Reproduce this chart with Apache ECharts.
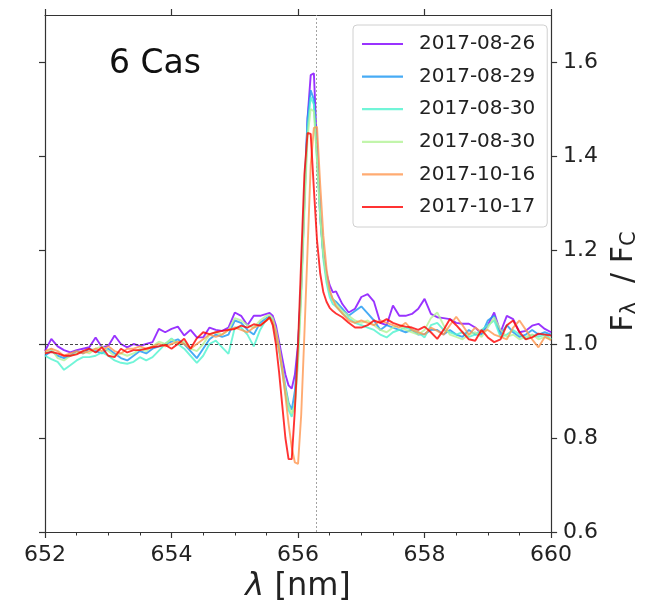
<!DOCTYPE html>
<html>
<head>
<meta charset="utf-8">
<script src="https://cdn.jsdelivr.net/npm/echarts@6/dist/echarts.min.js"></script>
<style>html,body{margin:0;padding:0;background:#fff}#c{width:653px;height:609px}</style>
</head>
<body>
<div id="c"></div>
<script>
const wavelength = [
652.0,652.1,652.2,652.3,652.4,652.5,652.6,652.7,652.8,652.9,
653.0,653.1,653.2,653.3,653.4,653.5,653.6,653.7,653.8,653.9,
654.0,654.1,654.2,654.3,654.4,654.5,654.6,654.7,654.8,654.9,
655.0,655.1,655.2,655.3,655.4,655.5,
655.55,655.6,655.65,655.7,655.75,655.8,655.85,655.9,655.95,656.0,656.05,
656.1,656.15,656.2,656.25,656.3,656.35,656.4,656.45,656.5,656.55,656.6,
656.7,656.8,656.9,
657.0,657.1,657.2,657.3,657.4,657.5,657.6,657.7,657.8,657.9,
658.0,658.1,658.2,658.3,658.4,658.5,658.6,658.7,658.8,658.9,
659.0,659.1,659.2,659.3,659.4,659.5,659.6,659.7,659.8,659.9,
660.0
];

const labels = ['2017-08-26','2017-08-29','2017-08-30','2017-08-30','2017-10-16','2017-10-17'];
const colors = ['#8000ff','#1996f3','#4df3ce','#b3f396','#ff964f','#ff0000'];

const s0826 = [
0.985,1.011,0.995,0.987,0.982,0.987,0.99,0.993,1.014,0.993,
0.996,1.018,1.0,0.993,1.0,0.996,1.0,1.004,1.032,1.025,
1.032,1.037,1.018,1.03,1.014,1.014,1.035,1.03,1.028,1.035,
1.067,1.06,1.04,1.06,1.06,1.064,
1.066,1.06,1.04,1.005,0.97,0.935,0.912,0.905,0.935,1.0,1.12,
1.3,1.48,1.572,1.576,1.42,1.27,1.19,1.15,1.125,1.11,1.112,
1.085,1.067,1.075,
1.1,1.106,1.09,1.045,1.04,1.082,1.06,1.06,1.064,1.075,
1.096,1.064,1.057,1.055,1.053,1.045,1.043,1.043,1.035,1.022,
1.04,1.067,1.025,1.06,1.053,1.025,1.028,1.039,1.043,1.032,
1.025
];
const s0829 = [
0.975,0.985,0.975,0.97,0.975,0.985,0.98,0.99,0.985,0.98,
0.99,0.98,0.97,0.965,0.975,0.985,0.98,0.99,0.995,1.0,
1.005,1.01,1.0,0.985,0.97,0.99,1.01,1.02,1.015,1.02,
1.05,1.045,1.03,1.02,1.045,1.055,
1.058,1.05,1.025,0.99,0.95,0.91,0.875,0.86,0.9,0.99,1.14,
1.32,1.48,1.54,1.52,1.4,1.28,1.19,1.14,1.11,1.095,1.09,
1.075,1.06,1.07,
1.08,1.065,1.05,1.03,1.04,1.035,1.03,1.025,1.03,1.02,
1.021,1.03,1.03,1.02,1.03,1.02,1.015,1.03,1.02,1.02,
1.05,1.06,1.02,1.04,1.025,1.015,1.02,1.03,1.02,1.025,
1.02
];
const s0830a = [
0.975,0.968,0.962,0.945,0.955,0.965,0.972,0.972,0.975,0.982,
0.975,0.965,0.96,0.958,0.962,0.972,0.965,0.972,0.986,1.0,
1.012,1.0,0.99,0.975,0.96,0.975,1.0,1.007,0.993,0.979,
1.035,1.035,1.02,0.995,1.03,1.053,
1.057,1.05,1.02,0.985,0.94,0.895,0.86,0.845,0.875,0.97,1.12,
1.3,1.46,1.525,1.51,1.39,1.27,1.18,1.13,1.1,1.085,1.08,
1.065,1.055,1.045,
1.04,1.035,1.03,1.02,1.014,1.025,1.03,1.035,1.03,1.025,
1.014,1.04,1.045,1.03,1.025,1.02,1.025,1.015,1.02,1.03,
1.04,1.05,1.015,1.02,1.03,1.02,1.01,1.02,1.015,1.02,
1.01
];
const s0830b = [
0.98,0.99,0.97,0.965,0.975,0.98,0.985,0.98,0.99,0.995,
0.985,0.975,0.98,0.975,0.98,0.99,0.985,0.995,1.005,1.0,
1.01,1.0,1.005,0.99,0.985,1.0,1.02,1.025,1.02,1.03,
1.055,1.05,1.04,1.035,1.05,1.06,
1.062,1.055,1.03,0.995,0.95,0.905,0.87,0.852,0.87,0.96,1.1,
1.28,1.44,1.5,1.495,1.39,1.27,1.19,1.14,1.11,1.095,1.085,
1.07,1.06,1.05,
1.045,1.05,1.04,1.03,1.025,1.035,1.04,1.03,1.025,1.02,
1.03,1.055,1.067,1.04,1.02,1.015,1.01,1.02,1.025,1.015,
1.035,1.057,1.03,1.015,1.02,1.01,1.015,1.02,1.01,1.015,
1.01
];
const s1016 = [
0.985,0.99,0.985,0.975,0.98,0.985,0.98,0.985,0.99,0.985,
0.995,0.985,0.98,0.99,0.99,0.995,0.99,0.995,1.0,0.995,
1.0,1.005,1.0,0.99,1.0,1.01,1.02,1.015,1.02,1.03,
1.035,1.03,1.025,1.035,1.04,1.05,
1.055,1.048,1.025,0.99,0.945,0.89,0.83,0.78,0.748,0.745,0.85,
1.02,1.2,1.38,1.46,1.462,1.34,1.23,1.16,1.115,1.095,1.08,
1.065,1.05,1.045,
1.05,1.045,1.04,1.05,1.045,1.04,1.035,1.045,1.03,1.025,
1.02,1.035,1.028,1.02,1.04,1.058,1.04,1.02,1.035,1.025,
1.03,1.02,1.015,1.01,1.035,1.05,1.03,1.01,0.993,1.015,
1.008
];
const s1017 = [
0.98,0.983,0.98,0.975,0.975,0.978,0.985,0.99,0.982,0.993,
0.975,0.972,0.99,0.982,0.987,0.987,0.99,0.993,0.995,0.998,
0.99,1.0,1.011,0.99,1.012,1.025,1.021,1.025,1.028,1.03,
1.032,1.039,1.035,1.042,1.039,1.05,
1.057,1.04,1.0,0.94,0.87,0.8,0.755,0.755,0.86,1.0,1.18,
1.36,1.449,1.447,1.33,1.22,1.15,1.11,1.09,1.077,1.07,1.065,
1.057,1.045,1.035,
1.035,1.04,1.05,1.045,1.053,1.045,1.04,1.037,1.035,1.03,
1.037,1.025,1.011,1.03,1.053,1.04,1.025,1.01,1.007,1.03,
1.014,1.004,1.01,1.04,1.05,1.025,1.01,1.014,1.022,1.02,
1.018
];
const seriesValues = [s0826, s0829, s0830a, s0830b, s1016, s1017];

const xTickValues = [652, 654, 656, 658, 660];
const yTickValues = [0.6, 0.8, 1.0, 1.2, 1.4, 1.6];
const xRange = [652, 660];
const yRange = [0.6, 1.7];
const continuumLevel = 1.0;
const halphaCenter = 656.28;
const starName = '6 Cas';

const FONT = 'DejaVu Sans';
const AXIS_COLOR = '#333';
const TEXT_COLOR = '#222';

const chart = echarts.init(document.getElementById('c'), null, {renderer: 'canvas'});

// unique internal names (two spectra share the same date)
const seriesNames = labels.map((l, i) => l + '#' + i);

const series = seriesValues.map((vals, i) => {
  const s = {
    name: seriesNames[i],
    type: 'line',
    xAxisIndex: 0,
    yAxisIndex: 1,
    symbol: 'none',
    showSymbol: false,
    smooth: false,
    z: 2 + i,
    data: wavelength.map((w, j) => [w, vals[j]]),
    lineStyle: {color: colors[i], width: 1.9, opacity: 0.8},
    itemStyle: {color: colors[i], opacity: 0.8}
  };
  if (i === 0) {
    s.markLine = {
      silent: true,
      symbol: ['none', 'none'],
      label: {show: false},
      animation: false,
      data: [
        {yAxis: continuumLevel, lineStyle: {color: '#333', width: 0.9, type: [3, 2], opacity: 1}},
        {xAxis: halphaCenter, lineStyle: {color: '#999', width: 0.9, type: [2, 2], opacity: 1}}
      ]
    };
  }
  return s;
});

const axisLine = {show: true, lineStyle: {color: AXIS_COLOR, width: 1.2}};
const xTick = {show: true, length: 6, inside: false, customValues: xTickValues, lineStyle: {color: AXIS_COLOR, width: 1.2}};
const yTick = {show: true, length: 6, inside: false, customValues: yTickValues, lineStyle: {color: AXIS_COLOR, width: 1.2}};

const option = {
  animation: false,
  backgroundColor: '#fff',
  grid: {left: 45, right: 97, top: 15, bottom: 77, containLabel: false},
  legend: {
    orient: 'vertical',
    left: 353,
    top: 25,
    padding: [9, 12, 10, 9],
    icon: 'rect',
    itemWidth: 41,
    itemHeight: 2.2,
    itemGap: 12.6,
    backgroundColor: 'rgba(255,255,255,0.8)',
    borderColor: '#d0d0d0',
    borderWidth: 1,
    borderRadius: 4,
    formatter: name => name.split('#')[0],
    textStyle: {fontFamily: FONT, fontSize: 20, color: TEXT_COLOR, lineHeight: 20, padding: [0, 0, 0, 11]},
    data: seriesNames.map(n => ({name: n}))
  },
  graphic: [{
    type: 'text',
    left: 109,
    top: 48,
    style: {text: starName, fontFamily: FONT, fontSize: 33, fill: '#111'}
  }],
  xAxis: [{
    type: 'value',
    position: 'bottom',
    min: xRange[0], max: xRange[1], interval: 2,
    axisLine: axisLine,
    axisTick: xTick,
    minorTick: {show: true, splitNumber: 4, length: 3.5, lineStyle: {color: AXIS_COLOR, width: 1}},
    splitLine: {show: false},
    minorSplitLine: {show: false},
    axisLabel: {fontFamily: FONT, fontSize: 22, color: TEXT_COLOR, margin: 12, customValues: xTickValues},
    name: '{i|λ} [nm]',
    nameLocation: 'middle',
    nameGap: 37,
    nameTextStyle: {
      fontFamily: FONT, fontSize: 32, color: TEXT_COLOR,
      rich: {i: {fontFamily: FONT, fontSize: 32, fontStyle: 'italic', color: TEXT_COLOR}}
    }
  }, {
    type: 'value',
    position: 'top',
    min: xRange[0], max: xRange[1], interval: 2,
    axisLine: axisLine,
    axisTick: xTick,
    splitLine: {show: false},
    axisLabel: {show: false}
  }],
  yAxis: [{
    type: 'value',
    position: 'left',
    min: yRange[0], max: yRange[1], interval: 0.2,
    axisLine: axisLine,
    axisTick: yTick,
    splitLine: {show: false},
    axisLabel: {show: false}
  }, {
    type: 'value',
    position: 'right',
    min: yRange[0], max: yRange[1], interval: 0.2,
    axisLine: axisLine,
    axisTick: yTick,
    splitLine: {show: false},
    axisLabel: {fontFamily: FONT, fontSize: 22, color: TEXT_COLOR, margin: 12,
      customValues: yTickValues, formatter: v => Number(v).toFixed(1)},
    name: '{n|F}{s|λ}{n|  / F}{s|C}',
    nameLocation: 'middle',
    nameRotate: 90,
    nameGap: 57,
    nameTextStyle: {
      fontFamily: FONT, fontSize: 30, color: TEXT_COLOR,
      padding: [0, 16, 0, 0],
      rich: {
        n: {fontFamily: FONT, fontSize: 30, color: TEXT_COLOR, lineHeight: 31, verticalAlign: 'top', padding: [0, 0, 6, 0]},
        s: {fontFamily: FONT, fontSize: 21, color: TEXT_COLOR, lineHeight: 21, verticalAlign: 'bottom'}
      }
    }
  }],
  series: series
};

chart.setOption(option);
</script>
</body>
</html>
